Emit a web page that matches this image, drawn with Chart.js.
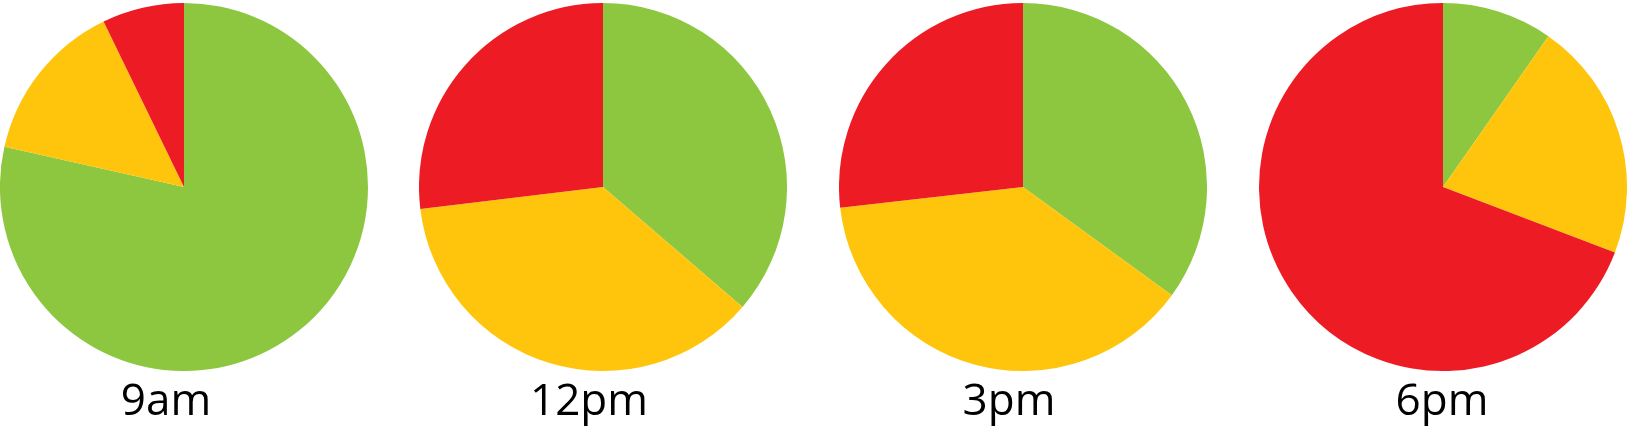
<!DOCTYPE html>
<html>
<head>
<meta charset="utf-8">
<script src="https://cdn.jsdelivr.net/npm/chart.js@4/dist/chart.umd.min.js"></script>
<style>
  html, body { margin: 0; padding: 0; background: #fff; width: 1627px; height: 430px; overflow: hidden; }
  .pie { position: absolute; top: 3px; width: 368px; height: 368px; }
  .lbl { position: absolute; top: 376px; width: 200px; text-align: center; font-family: "Open Sans", sans-serif; font-size: 44px; line-height: 44px; color: #000; }
</style>
</head>
<body>
<script>
const categories = ["Green", "Yellow", "Red"];
const timeLabels = ["9am", "12pm", "3pm", "6pm"];
const values9am = [78.5, 14.3, 7.2];
const values12pm = [36.3, 36.8, 26.9];
const values3pm = [35.0, 38.2, 26.8];
const values6pm = [9.7, 21.1, 69.2];
const sliceColors = ["#8DC63F", "#FFC50D", "#ED1C24"];

const allValues = [values9am, values12pm, values3pm, values6pm];
const pieCenters = [183.5, 603, 1023, 1443];
const labelCenters = [166, 589, 1009, 1442];

allValues.forEach((vals, i) => {
  const wrap = document.createElement('div');
  wrap.className = 'pie';
  wrap.style.left = (pieCenters[i] - 184) + 'px';
  const cv = document.createElement('canvas');
  wrap.appendChild(cv);
  document.body.appendChild(wrap);
  new Chart(cv, {
    type: 'pie',
    data: {
      labels: categories,
      datasets: [{ data: vals, backgroundColor: sliceColors, borderWidth: 0 }]
    },
    options: {
      responsive: true,
      maintainAspectRatio: false,
      animation: false,
      layout: { padding: 0 },
      plugins: { legend: { display: false }, tooltip: { enabled: false }, title: { display: false } }
    }
  });
  const lb = document.createElement('div');
  lb.className = 'lbl';
  lb.style.left = (labelCenters[i] - 100) + 'px';
  lb.textContent = timeLabels[i];
  document.body.appendChild(lb);
});
</script>
</body>
</html>
